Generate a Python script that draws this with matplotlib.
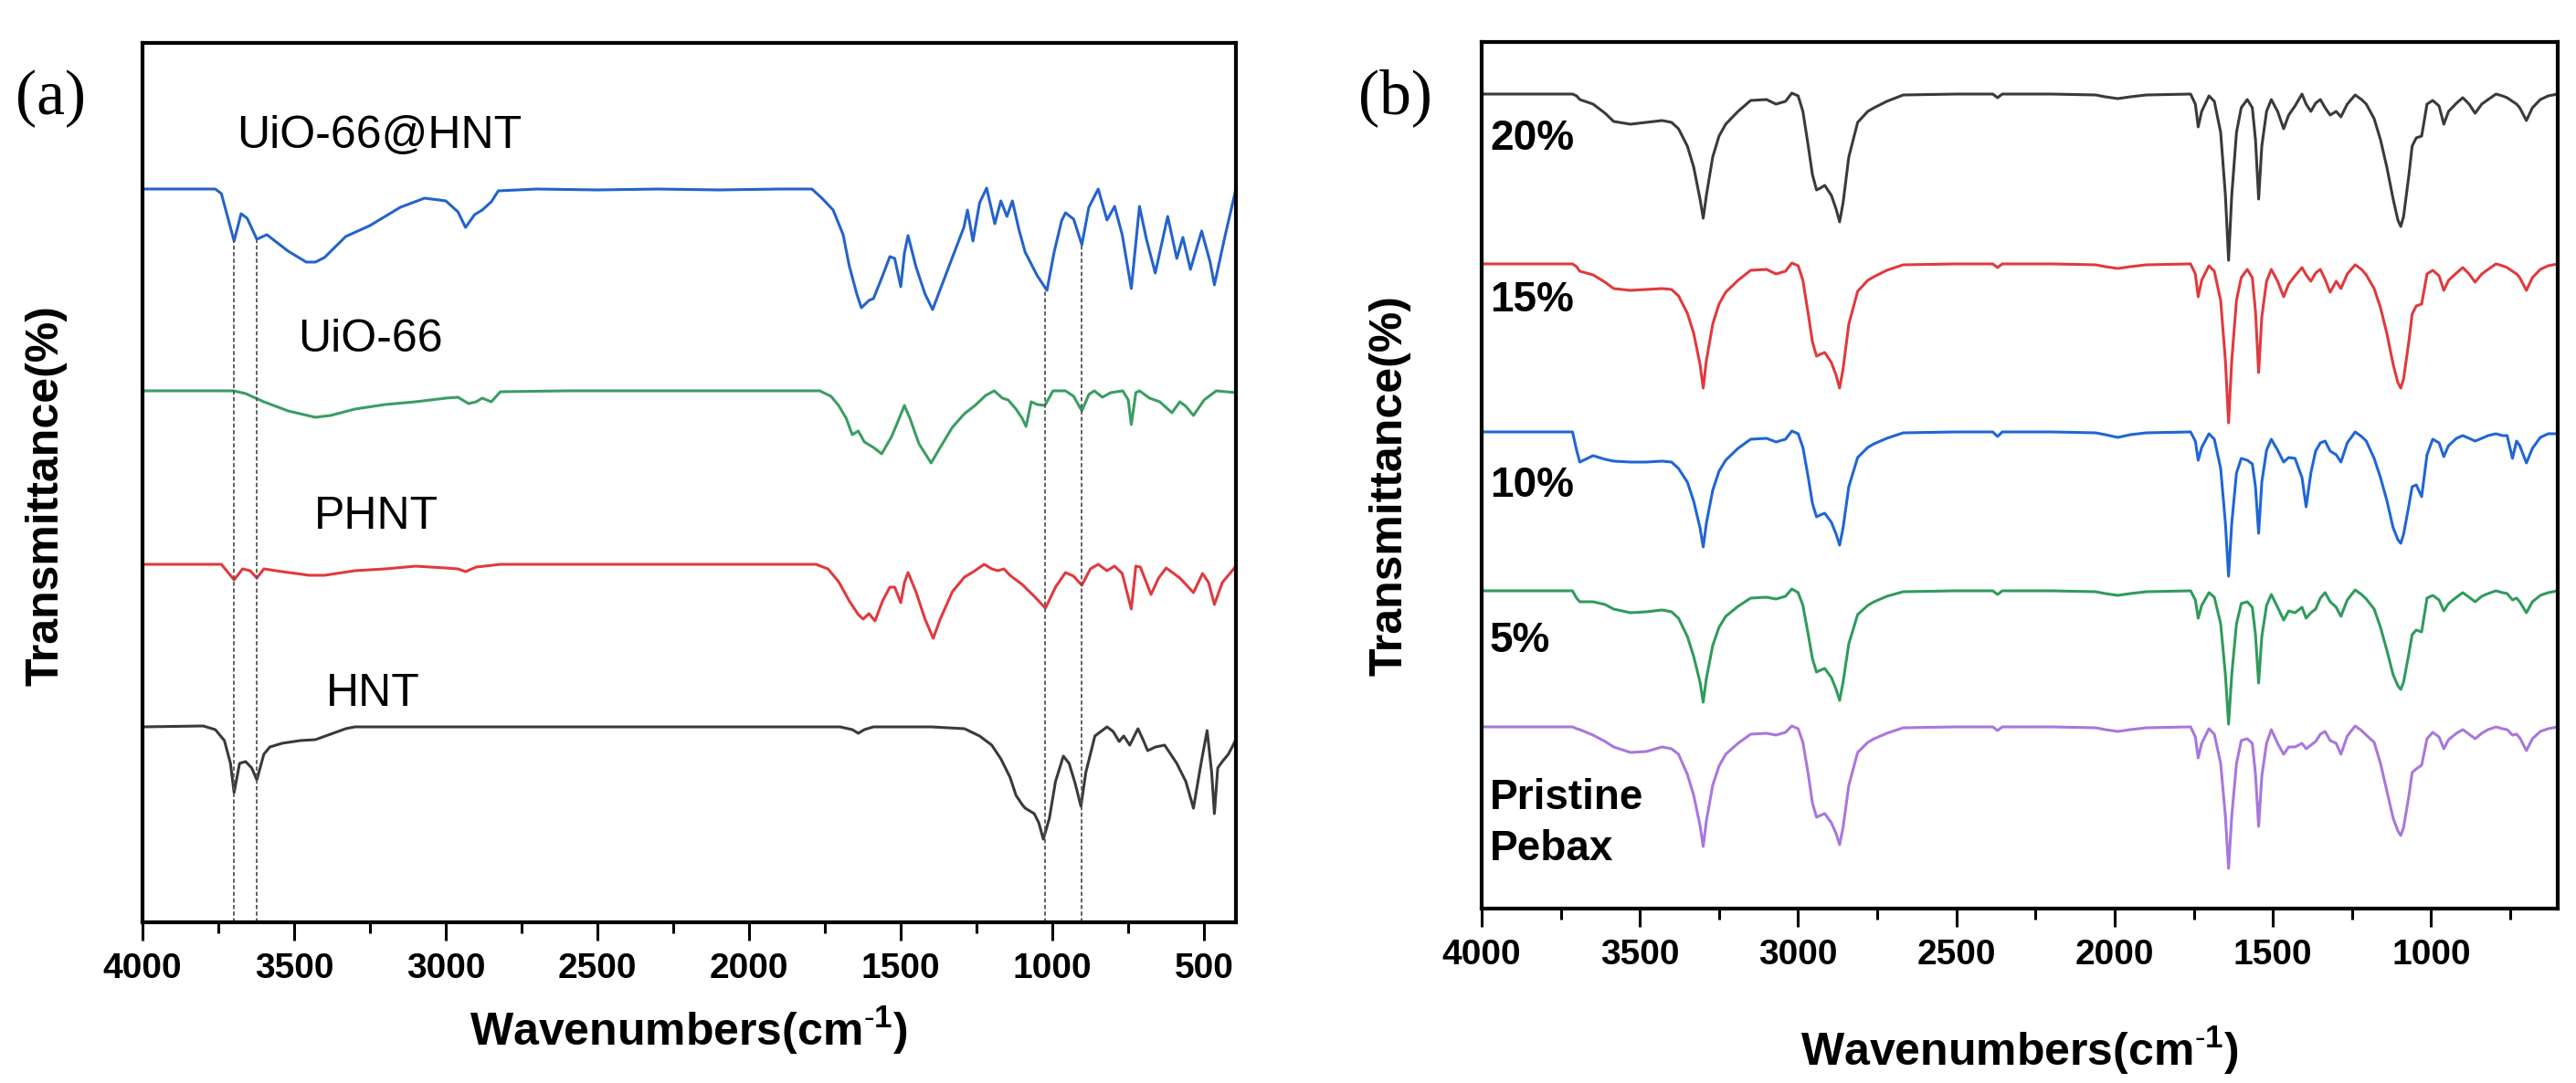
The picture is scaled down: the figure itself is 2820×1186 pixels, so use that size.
"""
FTIR spectra: (a) HNT / PHNT / UiO-66 / UiO-66@HNT, (b) Pebax membranes with filler loading.
"""
import numpy as np
import matplotlib
matplotlib.use('Agg')
import matplotlib.pyplot as plt
from matplotlib.ticker import MultipleLocator

plt.rcParams['font.family'] = ['Liberation Sans', 'DejaVu Sans']
plt.rcParams['mathtext.fontset'] = 'custom'
plt.rcParams['mathtext.rm'] = 'Liberation Sans'
plt.rcParams['mathtext.bf'] = 'Liberation Sans:bold'

# ---------------- panel (a) data: wavenumber and transmittance drop ----------------
hnt_wn = [4000, 3800, 3760, 3730, 3710, 3698, 3680, 3660, 3640, 3623,
          3600, 3580, 3540, 3480, 3430, 3380, 3330, 3300, 3000, 2500,
          2000, 1700, 1660, 1640, 1620, 1590, 1400, 1290, 1240, 1200,
          1170, 1140, 1120, 1100, 1090, 1060, 1045, 1030, 1010, 990,
          964, 945, 925, 906, 890, 860, 820, 800, 780, 765,
          745, 718, 700, 686, 660, 630, 590, 560, 535, 510,
          490, 475, 466, 455, 440, 420, 395]
hnt_dip = [0, -1, 3, 15, 40, 72, 40, 38, 45, 58,
           30, 22, 18, 15, 14, 8, 2, 0, 0, 0,
           0, 0, 3, 7, 3, 0, 0, 2, 10, 20,
           35, 55, 75, 85, 89, 95, 105, 123, 100, 60,
           32, 40, 62, 87, 50, 10, 0, 5, 16, 10,
           20, 2, 15, 26, 22, 20, 40, 60, 89, 40,
           4, 50, 95, 45, 38, 30, 14]

phnt_wn = [4000, 3740, 3698, 3670, 3645, 3623, 3600, 3540, 3450, 3400,
           3300, 3200, 3100, 3000, 2960, 2935, 2900, 2820, 2500, 2200,
           1900, 1780, 1740, 1705, 1670, 1640, 1624, 1605, 1585, 1560,
           1536, 1520, 1500, 1488, 1476, 1450, 1420, 1393, 1370, 1330,
           1290, 1260, 1225, 1200, 1180, 1160, 1140, 1100, 1060, 1023,
           990, 957, 930, 903, 875, 849, 820, 795, 770, 740,
           725, 710, 675, 650, 625, 600, 580, 560, 535, 505,
           485, 466, 440, 395]
phnt_dip = [0, 0, 17, 5, 7, 15, 5, 8, 12, 12,
            7, 5, 2, 4, 5, 8, 3, 0, 0, 0,
            0, 0, 5, 19, 40, 55, 60, 54, 62, 40,
            25, 25, 42, 20, 9, 30, 60, 81, 60, 30,
            14, 8, 0, 5, 7, 5, 12, 22, 35, 48,
            25, 9, 13, 23, 5, 0, 7, 2, 10, 49,
            2, 3, 33, 15, 4, 10, 15, 22, 31, 10,
            20, 44, 20, 2]

uio_wn = [4000, 3700, 3660, 3600, 3520, 3430, 3380, 3300, 3200, 3100,
          3000, 2960, 2925, 2900, 2880, 2850, 2820, 2600, 2300, 2000,
          1767, 1730, 1705, 1680, 1660, 1640, 1620, 1590, 1563, 1530,
          1505, 1488, 1470, 1440, 1400, 1370, 1330, 1290, 1255, 1220,
          1192, 1165, 1146, 1120, 1100, 1087, 1070, 1050, 1025, 998,
          957, 930, 903, 880, 862, 835, 808, 768, 750, 740,
          725, 713, 680, 646, 606, 580, 560, 535, 500, 460,
          395]
uio_dip = [0, 0, 3, 12, 22, 29, 27, 20, 15, 12,
           8, 7, 14, 12, 8, 12, 1, 0, 0, 0,
           0, 6, 16, 30, 48, 44, 56, 62, 69, 50,
           30, 16, 30, 58, 79, 62, 40, 25, 16, 5,
           0, 8, 10, 20, 30, 39, 12, 15, 16, 0,
           0, 6, 22, 4, 0, 7, 2, 0, 10, 37,
           2, 0, 8, 12, 24, 12, 17, 27, 10, 0,
           2]

uioh_wn = [4000, 3760, 3740, 3698, 3675, 3655, 3623, 3590, 3520, 3460,
           3430, 3400, 3330, 3250, 3150, 3070, 3000, 2960, 2935, 2905,
           2880, 2850, 2827, 2700, 2500, 2300, 2100, 1900, 1793, 1760,
           1723, 1690, 1670, 1645, 1630, 1605, 1590, 1560, 1536, 1520,
           1500, 1488, 1476, 1450, 1420, 1395, 1370, 1330, 1292, 1280,
           1262, 1240, 1217, 1190, 1170, 1150, 1132, 1110, 1090, 1050,
           1018, 995, 970, 957, 930, 903, 880, 849, 820, 795,
           770, 740, 713, 690, 661, 620, 590, 570, 545, 508,
           480, 466, 430, 395]
uioh_dip = [0, 0, 5, 57, 27, 32, 55, 50, 68, 80,
            80, 75, 52, 40, 20, 10, 13, 25, 42, 28,
            23, 14, 2, 0, 1, 0, 1, 0, 0, 10,
            23, 50, 84, 115, 130, 122, 120, 95, 74, 76,
            107, 70, 51, 85, 115, 132, 110, 75, 42, 23,
            57, 15, -1, 38, 13, 30, 13, 45, 69, 95,
            111, 70, 35, 26, 33, 61, 20, 0, 34, 19,
            50, 109, 19, 55, 92, 30, 76, 53, 88, 46,
            80, 105, 50, 0]

dash_wn = [3698, 3623, 1025, 905]

# ---------------- panel (b) data: common wavenumber grid ----------------
wn_b = [4000, 3800, 3713, 3700, 3690, 3648, 3610, 3583, 3530, 3480,
        3430, 3400, 3378, 3350, 3330, 3310, 3300, 3290, 3270, 3250,
        3229, 3190, 3150, 3100, 3070, 3040, 3020, 3000, 2985, 2968,
        2955, 2942, 2930, 2916, 2895, 2880, 2869, 2858, 2840, 2812,
        2780, 2760, 2720, 2668, 2500, 2385, 2370, 2355, 2200, 2060,
        2030, 1990, 1950, 1900, 1760, 1745, 1736, 1725, 1702, 1685,
        1665, 1650, 1640, 1630, 1615, 1600, 1581, 1565, 1555, 1545,
        1535, 1520, 1505, 1485, 1466, 1450, 1430, 1408, 1395, 1380,
        1365, 1350, 1335, 1319, 1300, 1285, 1265, 1240, 1220, 1205,
        1180, 1160, 1140, 1120, 1105, 1096, 1087, 1070, 1060, 1047,
        1030, 1013, 995, 975, 960, 945, 920, 900, 880, 861,
        840, 820, 795, 775, 760, 743, 730, 720, 699, 680,
        655, 630, 600]

dip_20 = [0, 0, 0, 2, 6, 11, 21, 30, 33, 31,
          29, 31, 38, 57, 80, 115, 136, 111, 69, 46,
          33, 19, 7, 6, 11, 8, -1, 2, 19, 57,
          88, 105, 103, 100, 111, 126, 140, 119, 69, 31,
          19, 15, 8, 1, 0, 0, 4, 0, 0, 1,
          3, 5, 3, 1, 0, 11, 36, 19, 2, 8,
          42, 111, 182, 111, 42, 15, 6, 15, 50, 115,
          57, 19, 6, 19, 38, 23, 13, 0, 11, 19,
          10, 6, 15, 23, 19, 25, 11, 1, 6, 11,
          27, 50, 80, 115, 138, 145, 134, 88, 57, 48,
          46, 11, 7, 13, 33, 19, 10, 4, 11, 21,
          11, 6, 0, 2, 4, 8, 11, 15, 29, 15,
          6, 2, 0]

dip_15 = [0, 0, 0, 3, 8, 12, 20, 27, 29, 28,
          27, 28, 35, 54, 76, 110, 136, 106, 66, 44,
          31, 18, 7, 6, 11, 8, -1, 2, 18, 55,
          85, 101, 99, 97, 108, 122, 136, 115, 66, 30,
          18, 14, 7, 1, 0, 0, 4, 0, 0, 1,
          3, 5, 3, 1, 0, 11, 36, 18, 2, 8,
          40, 106, 174, 106, 40, 15, 6, 15, 52, 119,
          58, 19, 6, 19, 36, 22, 13, 4, 12, 19,
          10, 6, 17, 31, 19, 27, 11, 1, 6, 12,
          27, 48, 76, 110, 130, 136, 126, 84, 55, 46,
          44, 11, 7, 13, 29, 18, 10, 4, 11, 20,
          11, 6, 0, 2, 4, 8, 11, 15, 29, 15,
          6, 2, 0]

dip_10 = [0, 0, 0, 20, 33, 26, 30, 32, 33, 33,
          32, 33, 40, 55, 76, 105, 126, 100, 64, 43,
          31, 18, 8, 7, 11, 8, -1, 2, 17, 50,
          78, 93, 91, 89, 99, 112, 124, 105, 60, 28,
          17, 13, 7, 1, 0, 0, 5, 0, 0, 1,
          3, 6, 3, 1, 0, 10, 31, 17, 2, 8,
          40, 100, 158, 100, 45, 29, 31, 35, 60, 111,
          55, 20, 8, 20, 33, 28, 29, 50, 82, 45,
          21, 12, 10, 21, 25, 33, 12, 0, 5, 10,
          29, 50, 75, 105, 118, 122, 112, 80, 60, 58,
          71, 25, 8, 12, 27, 15, 7, 4, 7, 10,
          7, 4, 2, 4, 4, 29, 10, 15, 34, 18,
          6, 2, 2]

dip_5 = [0, 0, 0, 8, 12, 12, 15, 20, 24, 23,
         21, 23, 30, 50, 72, 100, 122, 96, 60, 40,
         28, 17, 8, 7, 9, 6, -2, 2, 16, 48,
         74, 89, 87, 85, 95, 108, 120, 100, 58, 26,
         16, 12, 6, 1, 0, 0, 4, 0, 0, 1,
         3, 5, 3, 1, 0, 10, 30, 16, 2, 7,
         36, 92, 146, 92, 36, 14, 12, 18, 48, 101,
         50, 16, 4, 18, 32, 22, 24, 18, 30, 24,
         20, 8, 2, 12, 18, 28, 10, -1, 4, 9,
         20, 40, 65, 92, 104, 108, 100, 68, 48, 43,
         45, 8, 5, 10, 22, 14, 7, 2, 7, 12,
         6, 3, 0, 2, 3, 10, 8, 12, 24, 12,
         5, 2, 0]

dip_pebax = [0, 0, 0, 2, 3, 9, 16, 22, 28, 27,
             22, 24, 30, 52, 75, 108, 131, 103, 64, 43,
             30, 18, 8, 7, 9, 6, -1, 2, 17, 52,
             83, 99, 97, 95, 105, 117, 129, 110, 64, 28,
             17, 13, 7, 1, 0, 0, 4, 0, 0, 1,
             3, 5, 3, 1, 0, 11, 34, 18, 2, 8,
             40, 98, 155, 98, 40, 15, 13, 18, 52, 109,
             54, 18, 3, 18, 30, 22, 22, 18, 24, 20,
             16, 8, 5, 15, 18, 30, 10, -1, 4, 9,
             17, 40, 70, 100, 114, 119, 110, 75, 50, 46,
             42, 13, 6, 11, 24, 14, 7, 3, 8, 13,
             7, 3, 0, 2, 3, 9, 8, 12, 26, 13,
             5, 2, 0]

labels_a = ['UiO-66@HNT', 'UiO-66', 'PHNT', 'HNT']
labels_b = ['20%', '15%', '10%', '5%', 'Pristine\nPebax']

# ---------------- layout helpers (pixel -> figure fraction) ----------------
W, H = 2820, 1186
XLABEL = r'Wavenumbers(cm$^{\mathbf{\text{-}1}}$)'


def fx(px):
    return px / W


def fy(py):
    return 1 - py / H


def style_axes(ax, xmax, major_ticks):
    ax.set_xlim(4000, xmax)
    ax.set_yticks([])
    ax.set_xticks(major_ticks)
    ax.set_xticklabels([str(t) for t in major_ticks])
    ax.xaxis.set_minor_locator(MultipleLocator(250))
    ax.tick_params(axis='x', which='major', direction='out', length=14.5,
                   width=2.2, labelsize=28, pad=9)
    ax.tick_params(axis='x', which='minor', direction='out', length=8.5, width=2.2)
    for lbl in ax.get_xticklabels():
        lbl.set_fontweight('bold')
    for sp in ax.spines.values():
        sp.set_linewidth(3)


fig = plt.figure(figsize=(28.2, 11.86), dpi=100)

# ---------------- panel (a) ----------------
ax1 = fig.add_axes([fx(156), fy(1010), (1353 - 156) / W, (1010 - 47) / H])
ax1.set_ylim(0, 963)

levels_a = [803, 582, 392, 214]
colors_a = ['#2463cb', '#3b9d63', '#e03a3e', '#3a3a3a']
series_a = [(uioh_wn, uioh_dip), (uio_wn, uio_dip), (phnt_wn, phnt_dip), (hnt_wn, hnt_dip)]
for (wn, dip), lev, c in zip(series_a, levels_a, colors_a):
    ax1.plot(wn, lev - np.array(dip), color=c, lw=2.2)

# dotted guide lines from the UiO-66@HNT bands down to the axis
dash_top = levels_a[0] - np.interp(dash_wn, uioh_wn[::-1], uioh_dip[::-1])
ax1.vlines(dash_wn, 0, dash_top, colors='#555555', linestyles=(0, (2.5, 1.5)),
           linewidth=1.3)

style_axes(ax1, 395, [4000, 3500, 3000, 2500, 2000, 1500, 1000, 500])

text_a = [(259, 149), (326, 372), (344, 566), (357, 760)]
for lbl, (tx, ty) in zip(labels_a, text_a):
    fig.text(fx(tx), fy(ty), lbl, ha='left', va='center', fontsize=36)

fig.text(fx(56), fy(108), '(a)', ha='center', va='center', fontsize=50,
         family='Liberation Serif')
fig.text(fx(50), fy(543), 'Transmittance(%)', rotation=90, ha='center',
         va='center', fontsize=36, fontweight='bold')
fig.text(fx(754), fy(1128), XLABEL, ha='center', va='center', fontsize=36,
         fontweight='bold')

# ---------------- panel (b) ----------------
ax2 = fig.add_axes([fx(1622), fy(995), (2800 - 1622) / W, (995 - 46) / H])
ax2.set_ylim(0, 949)

levels_b = [892, 706, 522, 348, 199]
colors_b = ['#3a3a3a', '#e03a3e', '#2066d4', '#309b5c', '#a877dc']
series_b = [dip_20, dip_15, dip_10, dip_5, dip_pebax]
for dip, lev, c in zip(series_b, levels_b, colors_b):
    ax2.plot(wn_b, lev - np.array(dip), color=c, lw=2.2)

style_axes(ax2, 600, [4000, 3500, 3000, 2500, 2000, 1500, 1000])

text_b = [152, 329, 532, 702, 902]
for lbl, ty in zip(labels_b, text_b):
    fig.text(fx(1631), fy(ty), lbl, ha='left', va='center', fontsize=33,
             fontweight='bold', linespacing=1.35)

fig.text(fx(1527), fy(107), '(b)', ha='center', va='center', fontsize=50,
         family='Liberation Serif')
fig.text(fx(1522), fy(532), 'Transmittance(%)', rotation=90, ha='center',
         va='center', fontsize=36, fontweight='bold')
fig.text(fx(2211), fy(1150), XLABEL, ha='center', va='center', fontsize=36,
         fontweight='bold')

fig.savefig('out.png', dpi=100)
